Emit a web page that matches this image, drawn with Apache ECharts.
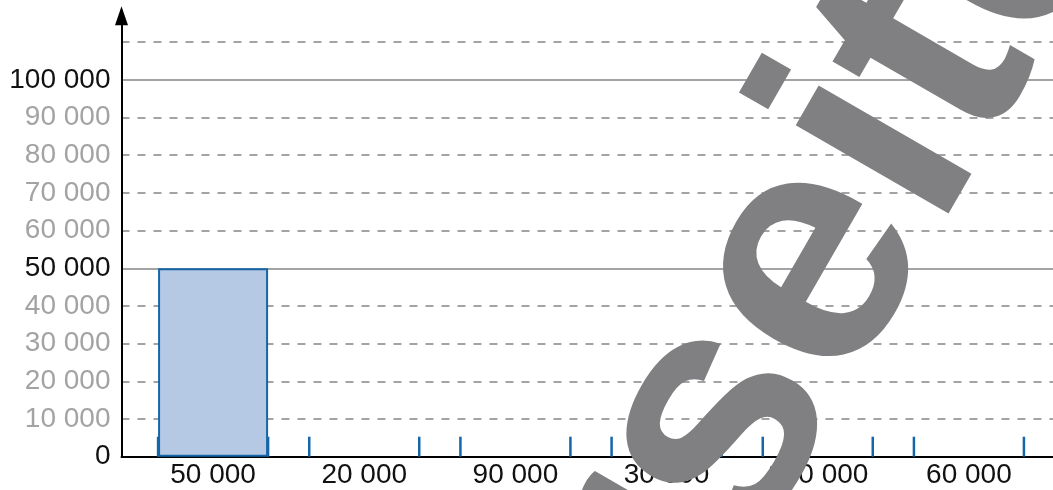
<!DOCTYPE html>
<html>
<head>
<meta charset="utf-8">
<script src="https://cdn.jsdelivr.net/npm/echarts@6/dist/echarts.min.js"></script>
<style>
  html, body { margin: 0; padding: 0; background: #fff; }
  #chart { width: 1053px; height: 490px; }
</style>
</head>
<body>
<div id="chart"></div>
<script>
// values to plot (x labels) and the one bar already drawn
const categories = ['50 000', '20 000', '90 000', '30 000', '100 000', '60 000'];
const barValues = [50000, '-', '-', '-', '-', '-'];
const yMin = 0;
const yMax = 117000;
const yStep = 10000;
const yBoldStep = 50000;
const yLabelMax = 100000;

const barWidth = 110;
const gridTop = 15.8;
const gridBottom = 33.3;
const fontFamily = '"Liberation Sans", Arial, Helvetica, sans-serif';

const fmt = v => String(v).replace(/\B(?=(\d{3})+(?!\d))/g, ' ');

const chart = echarts.init(document.getElementById('chart'));
chart.setOption({
    animation: false,
    textStyle: { fontFamily: fontFamily },
    grid: [
        { left: 121.5, right: -10, top: gridTop, bottom: gridBottom },
        { left: 137.5, width: 907, top: gridTop, bottom: gridBottom }
    ],
    xAxis: [
        {
            gridIndex: 0, type: 'value', min: 0, max: 1,
            axisLine: { lineStyle: { color: '#000', width: 2 } },
            axisTick: { show: false },
            axisLabel: { show: false },
            splitLine: { show: false }
        },
        {
            gridIndex: 1, type: 'category', data: categories,
            axisLine: { show: false },
            axisTick: { show: false },
            axisLabel: { interval: 0, margin: 5, fontSize: 28, color: '#111', fontFamily: fontFamily }
        }
    ],
    yAxis: [
        {
            gridIndex: 0, type: 'value', min: yMin, max: yMax, interval: yStep,
            axisLine: {
                show: true,
                symbol: ['none', 'triangle'],
                symbolSize: [13, 19],
                lineStyle: { color: '#000', width: 2 }
            },
            axisTick: { show: false },
            axisLabel: {
                margin: 11,
                fontSize: 28,
                fontFamily: fontFamily,
                padding: [0, 0, 4, 0],
                formatter: v => (v % yStep === 0 && v <= yLabelMax ? fmt(v) : ''),
                color: v => (v % yBoldStep === 0 ? '#111' : '#a3a3a3')
            },
            splitLine: {
                show: true, showMinLine: false, showMaxLine: false,
                lineStyle: { type: [8, 8], color: '#a3a3a3', width: 2 }
            }
        },
        {
            gridIndex: 0, type: 'value', min: yMin, max: yMax, interval: yBoldStep,
            position: 'left',
            axisLine: { show: false },
            axisTick: { show: false },
            axisLabel: { show: false },
            splitLine: {
                show: true, showMinLine: false, showMaxLine: false,
                lineStyle: { type: 'solid', color: '#a3a3a3', width: 2 }
            }
        },
        { gridIndex: 1, type: 'value', min: yMin, max: yMax, show: false }
    ],
    series: [
        {
            type: 'bar',
            xAxisIndex: 1, yAxisIndex: 2,
            data: barValues,
            barWidth: barWidth,
            itemStyle: { color: '#b5c9e4', borderColor: '#1466a8', borderWidth: 2 },
            z: 3
        },
        {
            // short blue marks where each bar's sides go
            type: 'custom',
            xAxisIndex: 1, yAxisIndex: 2,
            data: categories.map((c, i) => [i]),
            renderItem: (params, api) => {
                const p = api.coord([api.value(0), 0]);
                const h = barWidth / 2;
                const mk = x => ({
                    type: 'line',
                    shape: { x1: x, y1: p[1], x2: x, y2: p[1] - 20 },
                    style: { stroke: '#1466a8', lineWidth: 2.5 }
                });
                return { type: 'group', children: [mk(p[0] - h), mk(p[0] + h)] };
            },
            z: 2
        }
    ],
    graphic: [
        {
            type: 'text',
            x: 1052, y: -150,
            rotation: Math.PI / 3,
            z: 100,
            silent: true,
            style: {
                text: 'Musterseite',
                font: 'bold 334px ' + fontFamily,
                fill: '#808083',
                align: 'right',
                verticalAlign: 'middle'
            }
        }
    ]
});
</script>
</body>
</html>
